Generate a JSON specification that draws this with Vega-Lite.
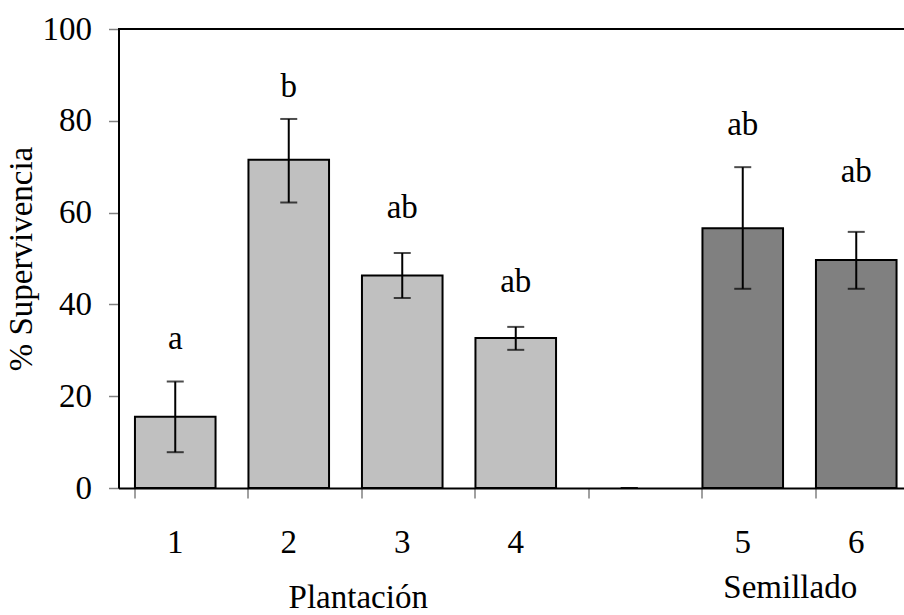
{
  "$schema": "https://vega.github.io/schema/vega-lite/v6.json",
  "width": 785.5,
  "height": 459,
  "autosize": {"type": "none"},
  "padding": {"left": 118.5, "top": 29, "right": 0, "bottom": 127},
  "background": "white",
  "config": {
    "view": {"stroke": null},
    "font": "Liberation Serif",
    "text": {"font": "Liberation Serif"},
    "axis": {"labelFont": "Liberation Serif", "titleFont": "Liberation Serif", "labelColor": "black", "titleColor": "black", "titleFontWeight": "normal"}
  },
  "data": {
    "values": [
      {"cat": "1", "group": "Plantación", "value": 15.5, "lo": 7.8, "hi": 23.2, "letter": "a", "ly": 30.3},
      {"cat": "2", "group": "Plantación", "value": 71.5, "lo": 62.2, "hi": 80.4, "letter": "b", "ly": 85.2},
      {"cat": "3", "group": "Plantación", "value": 46.3, "lo": 41.4, "hi": 51.2, "letter": "ab", "ly": 58.8},
      {"cat": "4", "group": "Plantación", "value": 32.7, "lo": 30.1, "hi": 35.1, "letter": "ab", "ly": 42.8},
      {"cat": "-", "group": "Plantación", "value": null, "lo": 0, "hi": 0, "letter": "", "ly": null},
      {"cat": "5", "group": "Semillado", "value": 56.6, "lo": 43.4, "hi": 69.9, "letter": "ab", "ly": 76.9},
      {"cat": "6", "group": "Semillado", "value": 49.7, "lo": 43.4, "hi": 55.8, "letter": "ab", "ly": 66.7}
    ]
  },
  "resolve": {"axis": {"x": "independent"}},
  "layer": [
    {
      "mark": {"type": "bar", "stroke": "black", "strokeWidth": 2},
      "encoding": {
        "x": {
          "field": "cat", "type": "nominal", "sort": null,
          "scale": {"domain": ["1", "2", "3", "4", "-", "5", "6"], "range": [0, 794.5], "paddingInner": 0.29, "paddingOuter": 0.145},
          "axis": {
            "orient": "bottom", "title": null, "bandPosition": 0, "labelAngle": 0,
            "tickSize": 10, "tickColor": "#808080", "tickWidth": 1.5,
            "domainColor": "black", "domainWidth": 2,
            "labelPadding": 28, "labelFontSize": 33, "labelFont": "Liberation Serif",
            "labelExpr": "datum.value == '-' ? '' : datum.label"
          }
        },
        "y": {
          "field": "value", "type": "quantitative",
          "scale": {"domain": [0, 100], "nice": false},
          "axis": {
            "title": "% Supervivencia", "titleFontSize": 33, "titlePadding": 4, "titleFont": "Liberation Serif",
            "values": [0, 20, 40, 60, 80, 100], "grid": false,
            "tickSize": 10, "tickColor": "#808080", "tickWidth": 1.5,
            "domainColor": "black", "domainWidth": 2,
            "labelFontSize": 33, "labelPadding": 17, "labelFont": "Liberation Serif"
          }
        },
        "fill": {
          "field": "group", "type": "nominal",
          "scale": {"domain": ["Plantación", "Semillado"], "range": ["#C0C0C0", "#808080"]},
          "legend": null
        }
      }
    },
    {
      "mark": {"type": "rule", "color": "black", "strokeWidth": 2},
      "encoding": {
        "x": {"field": "cat", "type": "nominal", "sort": null, "axis": null},
        "y": {"field": "lo", "type": "quantitative"},
        "y2": {"field": "hi"}
      }
    },
    {
      "mark": {"type": "tick", "color": "black", "thickness": 2, "size": 17, "orient": "horizontal"},
      "encoding": {
        "x": {"field": "cat", "type": "nominal", "sort": null, "axis": null},
        "y": {"field": "lo", "type": "quantitative"}
      }
    },
    {
      "mark": {"type": "tick", "color": "black", "thickness": 2, "size": 17, "orient": "horizontal"},
      "encoding": {
        "x": {"field": "cat", "type": "nominal", "sort": null, "axis": null},
        "y": {"field": "hi", "type": "quantitative"}
      }
    },
    {
      "mark": {"type": "text", "font": "Liberation Serif", "fontSize": 33, "baseline": "alphabetic", "align": "center", "color": "black"},
      "encoding": {
        "x": {
          "field": "cat", "type": "nominal", "sort": null,
          "axis": {
            "orient": "bottom", "title": null, "labelAngle": 0,
            "ticks": false, "domain": false, "labelFontSize": 33, "labelFont": "Liberation Serif",
            "labelOffset": {"condition": {"test": "datum.value == '3'", "value": -44}, "value": -66},
            "labelPadding": {"condition": {"test": "datum.value == '3'", "value": 93}, "value": 83},
            "labelExpr": "datum.value == '3' ? 'Plantación' : (datum.value == '6' ? 'Semillado' : '')"
          }
        },
        "y": {"field": "ly", "type": "quantitative"},
        "text": {"field": "letter"}
      }
    },
    {
      "mark": {"type": "rule", "color": "black", "strokeWidth": 2},
      "encoding": {"y": {"datum": 100}}
    }
  ]
}
